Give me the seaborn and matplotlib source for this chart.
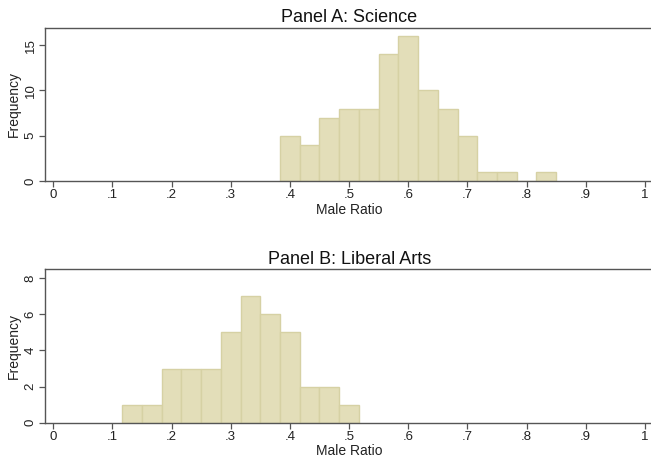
"""Male ratio histograms by track (Science vs Liberal Arts)."""
import matplotlib
matplotlib.use("Agg")
import matplotlib.pyplot as plt
import numpy as np
import seaborn as sns

# bin left edges (width 1/30) and counts
sci_edges = [0.3833, 0.4167, 0.4500, 0.4833, 0.5167, 0.5500, 0.5833,
             0.6167, 0.6500, 0.6833, 0.7167, 0.7500, 0.7833, 0.8167, 0.8500]
sci_counts = [5, 4, 7, 8, 8, 14, 16, 10, 8, 5, 1, 1, 0, 1]

lib_edges = [0.1167, 0.1500, 0.1833, 0.2167, 0.2500, 0.2833, 0.3167,
             0.3500, 0.3833, 0.4167, 0.4500, 0.4833, 0.5167]
lib_counts = [1, 1, 3, 3, 3, 5, 7, 6, 5, 2, 2, 1]

x_ticks = [0, 0.1, 0.2, 0.3, 0.4, 0.5, 0.6, 0.7, 0.8, 0.9, 1.0]
x_labels = ["0", ".1", ".2", ".3", ".4", ".5", ".6", ".7", ".8", ".9", "1"]

BAR = "#e3deb9"
EDGE = "#d6d1a4"
SPINE = "#555555"

sns.set_style("white")
plt.rcParams["font.family"] = ["Liberation Sans", "DejaVu Sans"]

fig = plt.figure(figsize=(6.51, 4.57), dpi=100)
ax_a = fig.add_axes([0.069, 0.604, 0.935, 0.335])
ax_b = fig.add_axes([0.069, 0.075, 0.935, 0.336])


def panel(ax, edges, counts, title, ymax, yticks):
    centers = [(edges[i] + edges[i + 1]) / 2 for i in range(len(counts))]
    sns.histplot(x=centers, weights=counts, bins=edges, ax=ax,
                 color=BAR, edgecolor=EDGE, linewidth=1.0, alpha=1.0)
    ax.set_xlim(-0.014, 1.0147)
    ax.set_ylim(0, ymax)
    ax.set_xticks(x_ticks)
    ax.set_xticklabels(x_labels)
    ax.set_yticks(yticks)
    ax.set_yticklabels([str(t) for t in yticks], rotation=90, va="center")
    ax.tick_params(axis="both", which="major", bottom=True, left=True,
                   direction="out", length=4, width=0.9,
                   color=SPINE, labelsize=9.5, labelcolor="#222222", pad=2)
    ax.set_xlabel("Male Ratio", fontsize=10, labelpad=1, color="#222222")
    ax.set_ylabel("Frequency", fontsize=10, labelpad=3, color="#222222")
    ax.set_title(title, fontsize=13, pad=4, color="#111111")
    for side in ["left", "bottom", "top"]:
        ax.spines[side].set_color(SPINE)
        ax.spines[side].set_linewidth(1.0)
    ax.spines["right"].set_visible(False)
    ax.grid(False)


panel(ax_a, sci_edges, sci_counts, "Panel A: Science", 16.9, [0, 5, 10, 15])
panel(ax_b, lib_edges, lib_counts, "Panel B: Liberal Arts", 8.5, [0, 2, 4, 6, 8])

fig.savefig("out.png", dpi=100, facecolor="white")
